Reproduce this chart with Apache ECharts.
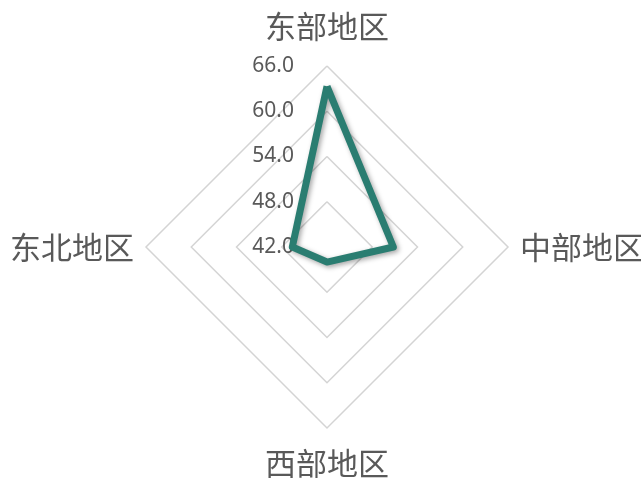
<!DOCTYPE html>
<html>
<head>
<meta charset="utf-8">
<script src="https://cdn.jsdelivr.net/npm/echarts@6/dist/echarts.min.js"></script>
<style>
  html, body { margin: 0; padding: 0; background: #fff; }
  #chart { width: 641px; height: 478px; }
</style>
</head>
<body>
<div id="chart"></div>
<script>
// 区域名称（按逆时针顺序，从顶部开始）
var regions = ['东部地区', '东北地区', '西部地区', '中部地区'];
// 数值
var values = [63.3, 46.6, 44.0, 50.8];
// 名称与轴端的距离
var nameGaps = [24, 12, 20, 12];
// 刻度范围
var axisMin = 42;
var axisMax = 66;
var axisStep = 6;

var myChart = echarts.init(document.getElementById('chart'));

var indicators = regions.map(function (name, i) {
    var ind = { name: name, min: axisMin, max: axisMax, nameGap: nameGaps[i] };
    if (i === 0) {
        // 只在第一根轴上显示刻度文字
        ind.axisLabel = {
            show: true,
            margin: 33,
            color: '#595959',
            fontSize: 21,
            fontFamily: 'Noto Sans',
            formatter: function (v) { return v.toFixed(1); }
        };
    }
    return ind;
});

var option = {
    backgroundColor: '#fff',
    radar: {
        center: [327, 247],
        radius: 181,
        shape: 'polygon',
        startAngle: 90,
        splitNumber: (axisMax - axisMin) / axisStep,
        indicator: indicators,
        nameGap: 12,
        axisName: {
            color: '#595959',
            fontSize: 31,
            fontFamily: 'Noto Sans CJK SC'
        },
        axisLine: { show: false },
        axisTick: { show: false },
        axisLabel: { show: false },
        splitArea: { show: false },
        splitLine: {
            lineStyle: { color: '#d4d4d4', width: 1.5 }
        }
    },
    series: [{
        type: 'radar',
        symbol: 'none',
        lineStyle: {
            color: '#2A7D71',
            width: 7,
            shadowColor: 'rgba(0,0,0,0.35)',
            shadowBlur: 5,
            shadowOffsetX: 2,
            shadowOffsetY: 2
        },
        data: [{ value: values, name: '地区' }]
    }]
};
myChart.setOption(option);
</script>
</body>
</html>
